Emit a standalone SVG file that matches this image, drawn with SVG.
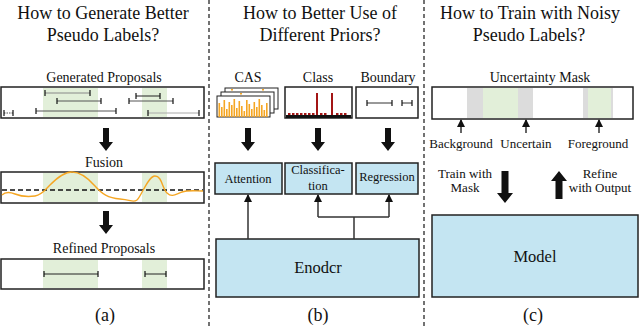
<svg xmlns="http://www.w3.org/2000/svg" width="640" height="327" viewBox="0 0 640 327" font-family="'Liberation Serif', 'Times New Roman', serif">
<style>
text{font-family:"Liberation Serif","Times New Roman",serif;fill:#111;text-anchor:middle}
.t18{font-size:18px;font-family:"Liberation Serif",serif}
.t14{font-size:14px;font-family:"Liberation Serif",serif}
.t13{font-size:13px;font-family:"Liberation Serif",serif}
.t12{font-size:12.5px;font-family:"Liberation Serif",serif}
.t16{font-size:16.5px;font-family:"Liberation Serif",serif}
.frame{fill:#fff;stroke:#222;stroke-width:1.5}
.blue{fill:#c4e5f2;stroke:#222;stroke-width:1.5}
.green{fill:#e2efd9}
.gray{fill:#dcdcdc}
.sep{stroke:#444;stroke-width:1.5;stroke-dasharray:4 3;fill:none}
.prop{stroke:#555;stroke-width:1;fill:none;marker-start:url(#tick);marker-end:url(#tick)}
.conn{stroke:#333;stroke-width:1.5;fill:none}
.big{fill:#111}
.bar{fill:#f5a623}
.red{fill:#a31515}
</style>
<defs>
<marker id="tick" viewBox="-1 -3 2 6" markerWidth="2" markerHeight="6" refX="0" refY="0" orient="auto" markerUnits="userSpaceOnUse">
<path d="M0,-3 V3" stroke="#111" stroke-width="1.2"/>
</marker>
<marker id="ah" viewBox="0 0 8 8" markerWidth="8" markerHeight="8" refX="7" refY="4" orient="auto" markerUnits="userSpaceOnUse">
<path d="M0,0 L8,4 L0,8 z" fill="#111"/>
</marker>
<path id="downArrow" d="M-3,-23 L3,-23 L3,-9 L7,-9 L0,0 L-7,-9 L-3,-9 Z"/>
</defs>

<g id="separators">
<line class="sep" x1="209" y1="0" x2="209" y2="327"/>
<line class="sep" x1="424" y1="0" x2="424" y2="327"/>
</g>

<g id="title-a">
<text class="t18" x="103" y="19">How to Generate Better</text>
<text class="t18" x="103" y="41">Pseudo Labels?</text>
</g>
<g id="generated-proposals">
<text class="t14" x="104" y="82">Generated Proposals</text>
<rect class="frame" x="1" y="87" width="203" height="31"/>
<rect class="green" x="43" y="88" width="55" height="29"/>
<rect class="green" x="142" y="88" width="25" height="29"/>
<line class="prop" x1="45" y1="93" x2="90" y2="93" style="stroke:#888"/>
<line class="prop" x1="57" y1="101" x2="101" y2="101"/>
<line class="prop" x1="36" y1="111" x2="116" y2="111"/>
<line class="prop" x1="4" y1="113" x2="13" y2="113" style="stroke-dasharray:1.5 1"/>
<line class="prop" x1="136" y1="96" x2="160" y2="96" style="stroke:#222"/>
<line class="prop" x1="129" y1="101" x2="173" y2="101"/>
<line class="prop" x1="148" y1="113" x2="199" y2="113" style="stroke:#aaa"/>
</g>
<use href="#downArrow" class="big" x="106" y="151"/>
<g id="fusion">
<text class="t14" x="104" y="167">Fusion</text>
<rect class="frame" x="1" y="172" width="203" height="31"/>
<rect class="green" x="43" y="173" width="55" height="29"/>
<rect class="green" x="142" y="173" width="25" height="29"/>
<line x1="2" y1="190" x2="203" y2="190" stroke="#111" stroke-width="1.3" stroke-dasharray="5 3"/>
<path d="M2,195 C5,192 10,192 15,194 S28,197 35,196 S45,190 50,185 S63,172 72,172 S88,178 95,186 S108,198 120,199 S133,203 137,200 S148,176 155,176 S162,188 167,193 S176,194 182,192 S195,191 203,191" fill="none" stroke="#f5a623" stroke-width="1.4"/>
</g>
<use href="#downArrow" class="big" x="106" y="234"/>
<g id="refined-proposals">
<text class="t14" x="104" y="253">Refined Proposals</text>
<rect class="frame" x="1" y="259" width="203" height="30"/>
<rect class="green" x="43" y="260" width="55" height="28"/>
<rect class="green" x="142" y="260" width="25" height="28"/>
<line class="prop" x1="44" y1="274" x2="98" y2="274" style="stroke:#222"/>
<line class="prop" x1="145" y1="274" x2="166" y2="274" style="stroke:#222"/>
</g>
<text class="t18" x="105" y="321">(a)</text>

<g id="title-b">
<text class="t18" x="320" y="19">How to Better Use of</text>
<text class="t18" x="320" y="41">Different Priors?</text>
</g>
<g id="cas">
<text class="t14" x="248" y="82">CAS</text>
<rect x="225" y="88" width="53" height="21" fill="#fff" stroke="#222" stroke-width="1"/>
<rect x="221" y="92" width="53" height="21" fill="#fff" stroke="#222" stroke-width="1"/>
<rect x="217" y="96" width="53" height="21" fill="#fff" stroke="#222" stroke-width="1"/>
<rect class="bar" x="231" y="89" width="2" height="1.5"/>
<rect class="bar" x="262" y="89" width="2" height="1.5"/>
<rect class="bar" x="240" y="93" width="2" height="1.5"/>
<g class="bar">
<rect x="218.5" y="103" width="1.6" height="14"/>
<rect x="221" y="107" width="1.6" height="10"/>
<rect x="223.5" y="100" width="1.6" height="17"/>
<rect x="226" y="109" width="1.6" height="8"/>
<rect x="228.5" y="102" width="1.6" height="15"/>
<rect x="231" y="105" width="1.6" height="12"/>
<rect x="233.5" y="99" width="1.6" height="18"/>
<rect x="236" y="108" width="1.6" height="9"/>
<rect x="238.5" y="101" width="1.6" height="16"/>
<rect x="241" y="106" width="1.6" height="11"/>
<rect x="243.5" y="111" width="1.6" height="6"/>
<rect x="246" y="100" width="1.6" height="17"/>
<rect x="248.5" y="104" width="1.6" height="13"/>
<rect x="251" y="109" width="1.6" height="8"/>
<rect x="253.5" y="102" width="1.6" height="15"/>
<rect x="256" y="107" width="1.6" height="10"/>
<rect x="258.5" y="99" width="1.6" height="18"/>
<rect x="261" y="105" width="1.6" height="12"/>
<rect x="263.5" y="110" width="1.6" height="7"/>
<rect x="266" y="103" width="1.6" height="14"/>
</g>
</g>
<g id="class">
<text class="t14" x="318" y="82">Class</text>
<rect class="frame" x="285" y="87" width="67" height="31"/>
<rect x="286" y="115" width="65" height="3" fill="#111"/>
<g class="red">
<rect x="288" y="113" width="2.5" height="2"/>
<rect x="292" y="113" width="2.5" height="2"/>
<rect x="296" y="113" width="2.5" height="2"/>
<rect x="300" y="113" width="2.5" height="2"/>
<rect x="304" y="113" width="2.5" height="2"/>
<rect x="308" y="113" width="2.5" height="2"/>
<rect x="312" y="113" width="2.5" height="2"/>
<rect x="320" y="113" width="2.5" height="2"/>
<rect x="324" y="113" width="2.5" height="2"/>
<rect x="336" y="113" width="2.5" height="2"/>
<rect x="340" y="113" width="2.5" height="2"/>
<rect x="344" y="113" width="2.5" height="2"/>
<rect x="316" y="93" width="2" height="22"/>
<rect x="331" y="93" width="2" height="22"/>
</g>
</g>
<g id="boundary">
<text class="t14" x="388" y="82">Boundary</text>
<rect class="frame" x="356" y="87" width="62" height="31"/>
<line class="prop" x1="367" y1="103" x2="392" y2="103" style="stroke:#333"/>
<line class="prop" x1="402" y1="103" x2="412" y2="103" style="stroke:#333"/>
</g>
<use href="#downArrow" class="big" x="248" y="151"/>
<use href="#downArrow" class="big" x="318" y="151"/>
<use href="#downArrow" class="big" x="388" y="151"/>
<g id="attention">
<rect class="blue" x="215" y="163" width="67" height="31"/>
<text class="t12" x="248" y="183">Attention</text>
</g>
<g id="classification">
<rect class="blue" x="285" y="163" width="67" height="31"/>
<text class="t12" x="318" y="174">Classifica-</text>
<text class="t12" x="318" y="190">tion</text>
</g>
<g id="regression">
<rect class="blue" x="356" y="163" width="62" height="31"/>
<text class="t12" x="387" y="181">Regression</text>
</g>
<g id="encoder">
<rect class="blue" x="216" y="239" width="203" height="58"/>
<text class="t16" x="318" y="273">Enodcr</text>
</g>
<g id="connectors">
<line class="conn" x1="248" y1="239" x2="248" y2="195" marker-end="url(#ah)"/>
<polyline class="conn" points="354,239 354,217"/>
<polyline class="conn" points="318,217 389,217"/>
<line class="conn" x1="318" y1="217" x2="318" y2="195" marker-end="url(#ah)"/>
<line class="conn" x1="389" y1="217" x2="389" y2="195" marker-end="url(#ah)"/>
<line class="conn" x1="461" y1="133" x2="461" y2="120" marker-end="url(#ah)"/>
<line class="conn" x1="526" y1="133" x2="526" y2="120" marker-end="url(#ah)"/>
<line class="conn" x1="599" y1="133" x2="599" y2="120" marker-end="url(#ah)"/>
</g>
<text class="t18" x="318" y="321">(b)</text>

<g id="title-c">
<text class="t18" x="530" y="19">How to Train with Noisy</text>
<text class="t18" x="529" y="41">Pseudo Labels?</text>
</g>
<g id="uncertainty-mask">
<text class="t14" x="540" y="82">Uncertainty Mask</text>
<rect class="frame" x="432" y="87" width="201" height="32"/>
<rect class="gray" x="467" y="88" width="16" height="30"/>
<rect class="green" x="483" y="88" width="35" height="30"/>
<rect class="gray" x="518" y="88" width="15" height="30"/>
<rect class="gray" x="583" y="88" width="5" height="30"/>
<rect class="green" x="588" y="88" width="23" height="30"/>
<rect class="gray" x="611" y="88" width="2" height="30"/>
</g>
<g id="mask-labels">
<text class="t13" x="461" y="148">Background</text>
<text class="t13" x="526" y="148">Uncertain</text>
<text class="t13" x="598" y="148">Foreground</text>
</g>
<g id="train-refine">
<text class="t13" x="465" y="178">Train with</text>
<text class="t13" x="465" y="192">Mask</text>
<path class="big" d="M501.5,171 L508.5,171 L508.5,193 L513,193 L505,203 L497,193 L501.5,193 Z"/>
<path class="big" d="M555.5,199 L562.5,199 L562.5,181 L567,181 L559,171 L551,181 L555.5,181 Z"/>
<text class="t13" x="600" y="178">Refine</text>
<text class="t13" x="600" y="192">with Output</text>
</g>
<g id="model">
<rect class="blue" x="432" y="215" width="206" height="82"/>
<text class="t16" x="535" y="262">Model</text>
</g>
<text class="t18" x="533" y="321">(c)</text>
</svg>
